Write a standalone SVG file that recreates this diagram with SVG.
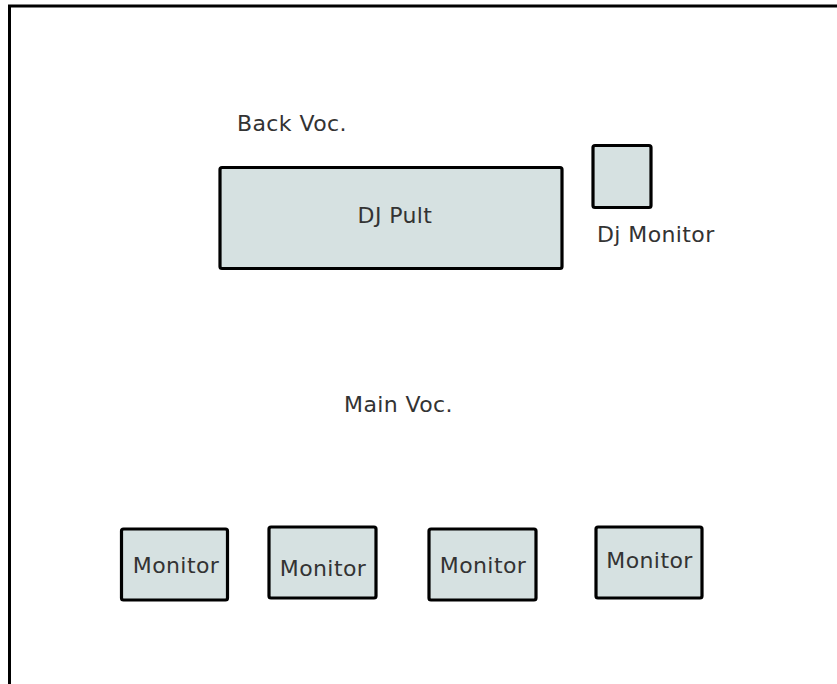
<svg xmlns="http://www.w3.org/2000/svg" width="837" height="684" viewBox="0 0 837 684">
<style>
.box{fill:#d6e1e1;stroke:#000;stroke-width:3.2;stroke-linejoin:round}
.t{font-family:"DejaVu Sans",sans-serif;font-size:22px;letter-spacing:0.4px;fill:#333}
.frame{fill:none;stroke:#000;stroke-width:3}
</style>
<rect width="837" height="684" fill="#fff"/>
<path class="frame" d="M9.5 684 V6 H837"/>
<g id="back-voc"><text class="t" x="237" y="131">Back Voc.</text></g>
<g id="dj-pult"><rect class="box" x="220" y="167.5" width="342" height="101" rx="2"/><text class="t" x="395" y="223" text-anchor="middle">DJ Pult</text></g>
<g id="dj-monitor"><rect class="box" x="593" y="145.5" width="58" height="62" rx="2"/><text class="t" x="597" y="242">Dj Monitor</text></g>
<g id="main-voc"><text class="t" x="344" y="412">Main Voc.</text></g>
<g id="monitor1"><rect class="box" x="121.5" y="529" width="106" height="71" rx="2"/><text class="t" x="176" y="573" text-anchor="middle">Monitor</text></g>
<g id="monitor2"><rect class="box" x="269" y="527" width="107" height="71" rx="2"/><text class="t" x="323" y="576" text-anchor="middle">Monitor</text></g>
<g id="monitor3"><rect class="box" x="429" y="529" width="107" height="71" rx="2"/><text class="t" x="483" y="573" text-anchor="middle">Monitor</text></g>
<g id="monitor4"><rect class="box" x="596" y="527" width="106" height="71" rx="2"/><text class="t" x="649.5" y="568" text-anchor="middle">Monitor</text></g>
</svg>
